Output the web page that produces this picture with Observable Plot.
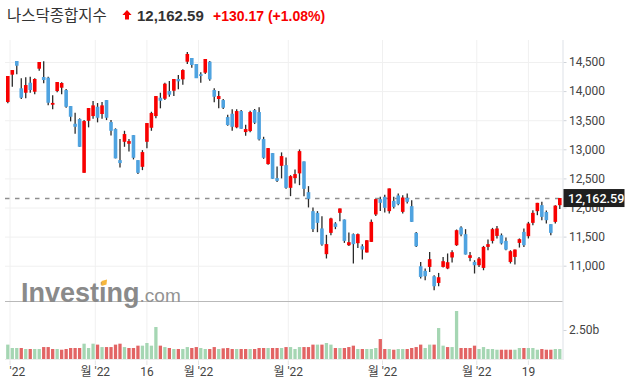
<!DOCTYPE html>
<html><head><meta charset="utf-8">
<script src="https://cdn.jsdelivr.net/npm/d3@7"></script>
<script src="https://cdn.jsdelivr.net/npm/@observablehq/plot@0.6"></script>
<style>
html,body{margin:0;padding:0;background:#fff;}
#wrap{position:relative;width:625px;height:385px;overflow:hidden;background:#fff;}
#wrap > svg{display:block;}
#overlay{position:absolute;left:0;top:0;pointer-events:none;}
</style></head><body><div id="wrap"></div>
<script>
// ---- data (Nasdaq Composite, daily, 31 Jan – 28 Jul 2022) ----
const title = "나스닥종합지수";
const open = [13812,14282,14517,14048,13972,14144,13989,14385,14242,14230,
13766,14001,14058,14018,13743,13439,13520,12596,13490,13571,
13731,13606,13846,13468,13348,12814,13129,13095,13244,12814,
12699,13129,13370,13571,13886,13869,14001,14006,14208,14202,
14505,14569,14466,14290,14316,14505,14018,13864,13846,13554,
13611,13377,13657,13296,13313,13674,13640,13176,12746,12935,
12505,12716,12728,12338,12505,12586,12792,12264,11937,11908,
11640,11198,11564,11726,11908,11794,11352,11542,11387,11335,
11227,11409,11880,12144,12183,11937,12114,12207,11925,12166,
12023,11564,10991,10911,10979,10819,10704,10979,10952,11141,
11352,11657,11542,11134,11065,11008,10962,11323,11426,11512,
11524,11426,11065,11151,11392,11581,11507,11736,11937,12040,
11923,11714,11753,12040];
const high = [14259,14362,14517,14220,14237,14247,14220,14500,14512,14247,
13927,14156,14151,14036,13743,13628,13532,13502,13709,13829,
13795,13812,13846,13502,13360,13176,13318,13176,13244,12814,
12986,13451,13645,13915,13972,14144,14173,14208,14276,14374,
14672,14569,14466,14323,14552,14517,14048,14001,13864,13594,
13686,13686,13674,13422,13662,13692,13721,13215,13021,12935,
12706,12947,12861,12556,12654,12998,12792,12367,12001,11937,
11851,11530,11822,11748,11984,11794,11571,11554,11554,11370,
11438,11794,12144,12183,12218,12328,12183,12242,12212,12242,
12126,11581,11065,10952,11237,10836,10876,11151,11210,11266,
11622,11679,11628,11237,11094,11151,11340,11450,11650,11684,
11554,11485,11266,11278,11468,11640,11753,11954,12080,12097,
11947,11714,12040,12162.59];
const low = [13790,14075,14288,13864,13876,13972,13944,14350,14134,13755,
13686,13979,13944,13714,13480,13267,13043,12596,13377,13525,
13463,13525,13502,13239,12844,12689,13043,12964,12826,12574,
12642,13016,13318,13532,13704,13846,13903,13915,14030,14110,
14466,14402,14230,14144,14294,14178,13807,13704,13692,13404,
13318,13360,13353,13232,13291,13434,13153,12837,12734,12493,
12436,12500,12321,12195,12414,12384,12195,12001,11581,11576,
11341,11124,11524,11628,11765,11392,11340,11038,11306,11106,
11227,11409,11856,11942,11915,11898,11984,12040,11898,12070,
11753,11323,10779,10750,10893,10578,10647,10969,10940,11055,
11340,11507,11192,11077,10866,10979,10922,11266,11382,11468,
11364,11266,11038,11020,11312,11323,11468,11696,11868,11782,
11726,11524,11726,11974];
const close = [14259,14362,14436,13886,14104,14018,14208,14500,14190,13800,
13797,14156,14139,13731,13559,13387,13043,13485,13709,13755,
13542,13755,13542,13318,12844,12763,13262,13141,12854,12596,
12952,13451,13623,13915,13834,14127,13938,14208,14168,14362,
14638,14448,14221,14261,14552,14202,13903,13915,13714,13416,
13387,13657,13353,13348,13640,13456,13170,12854,13021,12493,
12458,12883,12338,12539,12574,12969,12321,12149,11628,11736,
11364,11371,11812,11667,11984,11426,11404,11370,11542,11278,
11438,11753,12144,12080,11994,12328,12011,12058,12172,12097,
11753,11335,10807,10819,11112,10647,10802,11077,11060,11232,
11610,11536,11192,11180,11008,11124,11323,11370,11628,11640,
11382,11278,11249,11278,11456,11352,11726,11908,12080,11839,
11782,11564,12032.42,12162.59];
// volume, billions
const volume = [1.24,0.95,0.95,0.95,0.86,0.86,0.86,0.86,1.03,1.03,
0.86,0.86,0.80,0.86,0.95,0.95,0.95,1.32,0.95,1.32,
1.24,1.03,1.03,1.03,1.24,1.32,1.03,0.95,0.95,1.15,
1.15,1.38,1.15,2.76,1.15,1.03,0.95,0.86,0.86,0.86,
1.03,0.95,1.03,0.95,0.86,0.86,1.03,0.86,0.92,0.95,
0.86,0.86,0.86,0.86,0.86,0.86,0.95,0.95,0.95,0.95,
0.95,0.95,1.03,1.03,0.86,1.03,1.03,1.03,1.24,1.24,
1.24,1.38,1.24,0.95,0.95,0.95,1.03,1.15,0.86,0.86,
0.86,0.86,0.95,1.72,0.86,0.86,0.80,0.86,0.86,0.86,
0.95,1.03,1.24,0.95,1.24,1.24,2.67,1.15,1.03,1.03,
4.14,0.95,0.95,0.95,1.15,0.86,1.03,0.86,0.86,0.80,
0.80,0.80,0.80,0.80,0.95,0.95,0.95,0.95,0.80,0.86,
0.80,0.80,0.86,0.86];
const priceTicks = [11000,11500,12000,12500,13000,13500,14000,14500];
const volumeTicks = [2.5];
// x ticks, in bar-index units (month starts fall between bars)
const xTickPos = [0.5,19.5,31,42.5,62.5,83.5,104.5,116];
const xTickLabels = ["'22","월 '22","16","월 '22","월 '22","월 '22","월 '22","19"];

// ---- derived ----
const n = close.length;
const candles = d3.range(n).map(i => ({i, o: open[i], h: high[i], l: low[i], c: close[i], up: close[i] >= open[i]}));
const vols = d3.range(n).map(i => ({i, v: volume[i], up: i === 0 ? close[i] >= open[i] : close[i] >= close[i-1]}));
const last = close[n-1], prev = close[n-2];
const chg = last - prev, pct = chg / prev * 100;
const labelAt = new Map(xTickPos.map((p, i) => [p, xTickLabels[i]]));

const FONT = "Roboto, 'Noto Sans CJK KR', sans-serif";
const RED = "#f80000", BLUE = "#4fa3e0";
const GRID = "#f0f0f0";
const xOpts = {type: "linear", domain: [0, n - 1], range: [7.3, 559.3], axis: null};
const wrap = document.getElementById("wrap");

// ---- header ----
const head = d3.create("svg").attr("width", 625).attr("height", 40);
head.append("text").attr("x", 7).attr("y", 20.5)
  .style("font-family", "'Noto Sans CJK KR', sans-serif").style("font-size", "15.5px").attr("fill", "#333").text(title);
head.append("polygon").attr("points", "127,10 131.6,15 129,15 129,19.6 125,19.6 125,15 122.4,15").attr("fill", RED);
head.append("text").attr("x", 137).attr("y", 20.5)
  .style("font-family", "'Liberation Sans', Arial, sans-serif").style("font-size", "15px").style("font-weight", "bold")
  .attr("fill", "#333").text(d3.format(",.2f")(last));
head.append("text").attr("x", 213).attr("y", 20.5)
  .style("font-family", "'Liberation Sans', Arial, sans-serif").style("font-size", "14px").style("font-weight", "bold")
  .attr("fill", RED).text(`${chg >= 0 ? "+" : ""}${chg.toFixed(2)} (${chg >= 0 ? "+" : ""}${pct.toFixed(2)}%)`);
wrap.appendChild(head.node());

function dimsOf(args) { return args.find(a => a && typeof a === "object" && "marginRight" in a && "width" in a); }

// right axis line + last price label
function priceDecor(...args) {
  const dims = dimsOf(args);
  const scales = args[1];
  const xr = dims.width - dims.marginRight;
  const g = d3.create("svg:g");
  g.append("line").attr("x1", xr + 0.5).attr("x2", xr + 0.5).attr("y1", 0).attr("y2", dims.height).attr("stroke", "#dde1e7");
  const y = scales.y(last);
  g.append("rect").attr("x", xr + 1).attr("y", y - 9).attr("width", 61).attr("height", 18).attr("fill", "#1f1f1f");
  g.append("text").attr("x", xr + 5.5).attr("y", y).attr("dy", "0.36em").attr("fill", "#fff").attr("text-anchor", "start")
    .style("font-family", FONT).style("font-size", "12.6px").style("font-weight", 500).text(d3.format(",.2f")(last));
  return g.node();
}
function volDecor(...args) {
  const dims = dimsOf(args);
  const xr = dims.width - dims.marginRight;
  const base = dims.height - dims.marginBottom - 2;
  const g = d3.create("svg:g");
  g.append("line").attr("x1", xr + 0.5).attr("x2", xr + 0.5).attr("y1", 0).attr("y2", base + 1).attr("stroke", "#dde1e7");
  g.append("line").attr("x1", dims.marginLeft).attr("x2", xr).attr("y1", 0.5).attr("y2", 0.5).attr("stroke", "#b9b9b9");
  g.append("line").attr("x1", dims.marginLeft).attr("x2", xr).attr("y1", base + 0.5).attr("y2", base + 0.5).attr("stroke", "#ececec");
  return g.node();
}

// ---- price pane ----
const price = Plot.plot({
  width: 625, height: 261,
  marginLeft: 5, marginRight: 62.5, marginTop: 0, marginBottom: 0,
  style: {fontFamily: FONT, fontSize: "12px", color: "#444", background: "transparent"},
  x: xOpts,
  y: {type: "linear", domain: [11000, 14500], range: [225.7, 22], axis: null},
  color: {type: "identity"},
  marks: [
    Plot.gridX(xTickPos, {stroke: GRID, strokeOpacity: 1}),
    Plot.gridY(priceTicks, {stroke: GRID, strokeOpacity: 1}),
    Plot.axisY(priceTicks, {anchor: "right", label: null, tickFormat: d3.format(","), tickSize: 3, tickPadding: 3, stroke: "#cfd3d9", fill: "#444", fontSize: 12}),
    Plot.ruleY([last], {stroke: "#8f8f8f", strokeWidth: 1.6, strokeDasharray: "4.5,5.5"}),
    Plot.ruleX(candles, {x: "i", y1: "l", y2: "h", stroke: "#2a2a2a", strokeWidth: 1.3}),
    Plot.ruleX(candles, {x: "i", y1: "o", y2: "c", stroke: d => d.up ? RED : BLUE, strokeWidth: 3.6}),
    priceDecor
  ]
});
wrap.appendChild(price);

// ---- volume pane ----
const vol = Plot.plot({
  width: 625, height: 84,
  marginLeft: 5, marginRight: 62.5, marginTop: 0, marginBottom: 24,
  style: {fontFamily: FONT, fontSize: "12px", color: "#444", background: "transparent"},
  x: xOpts,
  y: {type: "linear", domain: [0, 2.5], range: [58, 29], axis: null},
  color: {type: "identity"},
  marks: [
    Plot.gridX(xTickPos, {stroke: GRID, strokeOpacity: 1}),
    volDecor,
    Plot.ruleX(vols, {x: "i", y1: 0, y2: "v", stroke: d => d.up ? "#a5d6b3" : "#e26464", strokeWidth: 3.3}),
    Plot.axisY(volumeTicks, {anchor: "right", label: null, tickFormat: d => d3.format(".2f")(d) + "b", tickSize: 3, tickPadding: 3, stroke: "#cfd3d9", fill: "#444", fontSize: 12}),
    Plot.axisX(xTickPos, {anchor: "bottom", label: null, tickSize: 4, tickPadding: 2, tickFormat: d => d === xTickPos[0] ? "" : labelAt.get(d), stroke: "#e4e4e4", fill: "#444", fontSize: 12}),
    Plot.text([xTickPos[0]], {x: d => d, text: () => xTickLabels[0], frameAnchor: "bottom", textAnchor: "start", lineAnchor: "top", dy: 6, dx: -0.5, fill: "#444", fontSize: 12})
  ]
});
wrap.appendChild(vol);

// ---- watermark ----
const ov = d3.create("svg").attr("id", "overlay").attr("width", 625).attr("height", 385);
const wm = ov.append("text").attr("x", 21).attr("y", 301.5).attr("fill", "#8a8a8a")
  .style("font-family", "'Liberation Sans', Arial, sans-serif");
wm.append("tspan").style("font-size", "27px").style("font-weight", "bold").text("Investing");
wm.append("tspan").style("font-size", "19px").attr("fill", "#939393").text(".com");
ov.append("polygon").attr("points", "101.5,281 107,279.5 106.5,284.5 101.5,286").attr("fill", "#f6b73c");
wrap.appendChild(ov.node());
</script></body></html>
